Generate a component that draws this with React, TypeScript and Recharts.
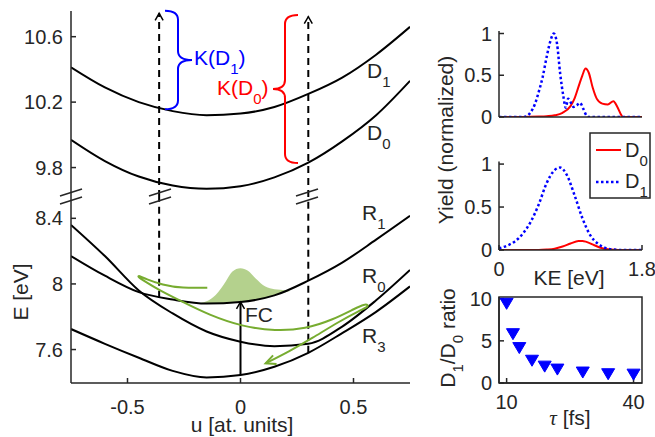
import React from 'react';
import { ComposedChart, Line, Area, XAxis, YAxis, Scatter, ReferenceArea } from 'recharts';

const FONT = '"Liberation Sans", Arial, Helvetica, sans-serif';
const AX = '#262626';
const GREEN = '#77AC30';
const BLUE = '#0000ff';
const RED = '#ff0000';

// ---------- main panel: potential curves (u in at. units, E in eV) ----------
const uGrid = [-0.75, -0.6, -0.45, -0.3, -0.15, 0, 0.15, 0.3, 0.45, 0.6, 0.75];
const eD1 = [10.413, 10.29, 10.2, 10.145, 10.12, 10.13, 10.17, 10.25, 10.35, 10.49, 10.66];
const eD0 = [9.97, 9.84, 9.745, 9.69, 9.67, 9.686, 9.74, 9.83, 9.96, 10.12, 10.33];
const eR1 = [8.17, 8.05, 7.95, 7.905, 7.88, 7.89, 7.93, 8.02, 8.13, 8.27, 8.415];
const eR0 = [8.36, 8.17, 7.96, 7.82, 7.71, 7.648, 7.62, 7.635, 7.74, 7.9, 8.085];
const eR3 = [7.725, 7.635, 7.55, 7.47, 7.43, 7.445, 7.495, 7.58, 7.7, 7.83, 7.985];

const upperTicks = [9.8, 10.2, 10.6];
const lowerTicks = [7.6, 8, 8.4];
const uTicks = [-0.5, 0, 0.5];

// wave packet on R1
const packetU = [-0.2, -0.15, -0.11, -0.066, -0.037, 0, 0.033, 0.066, 0.11, 0.15, 0.2, 0.22];
const packetLo = [7.882, 7.88, 7.881, 7.884, 7.886, 7.89, 7.896, 7.905, 7.915, 7.93, 7.95, 7.957];
const packetHi = [7.882, 7.895, 7.933, 8.014, 8.075, 8.096, 8.08, 8.035, 7.984, 7.968, 7.962, 7.957];

// green trajectory
const trajU = [-0.147, -0.258, -0.346, -0.42, -0.45, -0.455, -0.43, -0.361, -0.258, -0.14, 0.007, 0.155, 0.288, 0.406, 0.509, 0.548, 0.566, 0.56, 0.531, 0.435, 0.317, 0.214, 0.111];
const trajE = [7.977, 7.974, 7.994, 8.03, 8.052, 8.045, 8.022, 7.963, 7.892, 7.811, 7.74, 7.713, 7.726, 7.78, 7.852, 7.877, 7.872, 7.858, 7.84, 7.77, 7.669, 7.587, 7.516];

// vertical probes
const probeLeftU = [-0.36, -0.36];
const probeLeftLowE = [7.915, 8.53];
const probeLeftHighE = [9.62, 10.743];
const probeRightU = [0.3, 0.3];
const probeRightLowE = [7.58, 8.53];
const probeRightHighE = [9.62, 10.722];
const fcU = [0, 0];
const fcE = [7.445, 7.89];

// ---------- right panels: spectra ----------
const aD0KE = [0, 0.3, 0.5, 0.6, 0.7, 0.8, 0.9, 0.95, 1.0, 1.05, 1.09, 1.13, 1.18, 1.23, 1.3, 1.37, 1.44, 1.49, 1.53, 1.56, 1.8];
const aD0Y = [0, 0, 0.005, 0.01, 0.02, 0.05, 0.13, 0.22, 0.36, 0.5, 0.58, 0.53, 0.35, 0.22, 0.16, 0.15, 0.19, 0.12, 0.04, 0, 0];
const aD1KE = [0, 0.3, 0.35, 0.4, 0.45, 0.5, 0.55, 0.6, 0.65, 0.69, 0.73, 0.77, 0.81, 0.84, 0.87, 0.9, 0.94, 0.98, 1.02, 1.06, 1.1, 1.13, 1.8];
const aD1Y = [0, 0, 0.01, 0.06, 0.15, 0.3, 0.48, 0.72, 0.92, 1.0, 0.88, 0.52, 0.25, 0.11, 0.22, 0.18, 0.12, 0.14, 0.17, 0.1, 0.02, 0, 0];

const bD1KE = [0, 0.1, 0.2, 0.3, 0.4, 0.5, 0.6, 0.7, 0.77, 0.85, 0.95, 1.05, 1.15, 1.25, 1.35, 1.45, 1.55, 1.8];
const bD1Y = [0.02, 0.05, 0.1, 0.19, 0.33, 0.53, 0.78, 0.93, 0.96, 0.88, 0.64, 0.37, 0.17, 0.07, 0.02, 0.005, 0, 0];
const bD0KE = [0, 0.5, 0.6, 0.7, 0.8, 0.9, 1.0, 1.05, 1.1, 1.2, 1.3, 1.4, 1.5, 1.8];
const bD0Y = [0, 0, 0.005, 0.015, 0.04, 0.075, 0.105, 0.105, 0.095, 0.055, 0.02, 0.005, 0, 0];

const yieldTicks = [0, 0.5, 1];
const keTicks = [0, 1.8];

// ---------- ratio panel ----------
const tauFs = [10, 11.5, 13, 16, 19, 22, 28, 34, 40];
const ratio = [9.45, 5.85, 4.2, 2.7, 2.0, 1.65, 1.3, 1.1, 1.05];
const ratioTicks = [0, 5, 10];
const tauTicks = [10, 40];

const mk = (xs: number[], ys: number[], kx: string, ky: string) =>
  xs.map((x, i) => ({ [kx]: x, [ky]: ys[i] }));

const fmt = (v: number) => String(Math.round(v * 10) / 10);
const blank = () => '';
const tickStyle = { fill: AX, fontSize: 20, fontFamily: FONT };
const axisLine = { stroke: AX, strokeWidth: 1.5 };

const arrowUp = (color: string) => (props: any) => {
  const { cx, cy, index } = props;
  if (index !== 1) return <g key={`n${index}`} />;
  return (
    <path key={`a${index}`} d={`M${cx - 4},${cy + 7} L${cx},${cy} L${cx + 4},${cy + 7}`}
      stroke={color} strokeWidth={1.5} fill="none" strokeDasharray="0" />
  );
};

const greenHead = (props: any) => {
  const { cx, cy, index } = props;
  if (index !== trajU.length - 1) return <g key={`n${index}`} />;
  return (
    <path key="gh" d={`M${cx + 11},${cy + 0.6} L${cx},${cy} L${cx + 7.5},${cy - 8}`}
      stroke={GREEN} strokeWidth={2} fill="none" />
  );
};

const TriDown = (p: any) => (
  <path d={`M${p.cx - 6.5},${p.cy - 5} L${p.cx + 6.5},${p.cy - 5} L${p.cx},${p.cy + 6} Z`} fill={BLUE} stroke={BLUE} />
);

const Sub = ({ x, y, base, sub, color = AX, size = 21, anchor = 'start' }: any) => (
  <text x={x} y={y} fill={color} fontSize={size} fontFamily={FONT} textAnchor={anchor}>
    {base}
    <tspan fontSize={15} dy={9}>{sub}</tspan>
  </text>
);

const brace = (x0: number, spine: number, tip: number, yTop: number, yMid: number, yBot: number) => {
  const r = 9;
  return `M${x0},${yTop} Q${spine},${yTop} ${spine},${yTop + r} L${spine},${yMid - r} Q${spine},${yMid} ${tip},${yMid} Q${spine},${yMid} ${spine},${yMid + r} L${spine},${yBot - r} Q${spine},${yBot} ${x0},${yBot}`;
};

export default function App() {
  const d1 = mk(uGrid, eD1, 'u', 'E');
  const d0 = mk(uGrid, eD0, 'u', 'E');
  const r1 = mk(uGrid, eR1, 'u', 'E');
  const r0 = mk(uGrid, eR0, 'u', 'E');
  const r3 = mk(uGrid, eR3, 'u', 'E');
  const packet = packetU.map((u, i) => ({ u, lo: packetLo[i], hi: packetHi[i] }));
  const traj = mk(trajU, trajE, 'u', 'E');
  const pLL = mk(probeLeftU, probeLeftLowE, 'u', 'E');
  const pLH = mk(probeLeftU, probeLeftHighE, 'u', 'E');
  const pRL = mk(probeRightU, probeRightLowE, 'u', 'E');
  const pRH = mk(probeRightU, probeRightHighE, 'u', 'E');
  const fc = mk(fcU, fcE, 'u', 'E');

  const aD0 = mk(aD0KE, aD0Y, 'ke', 'y');
  const aD1 = mk(aD1KE, aD1Y, 'ke', 'y');
  const bD0 = mk(bD0KE, bD0Y, 'ke', 'y');
  const bD1 = mk(bD1KE, bD1Y, 'ke', 'y');
  const rat = mk(tauFs, ratio, 'tau', 'ratio');

  const blackLine = { type: 'monotone' as const, stroke: '#000', strokeWidth: 2, dot: false, isAnimationActive: false };

  return (
    <div style={{ position: 'absolute', left: 0, top: 0, width: 655, height: 437, background: '#fff', overflow: 'hidden' }}>
      {/* upper part of main panel */}
      <div style={{ position: 'absolute', left: 0, top: 0 }}>
        <ComposedChart width={420} height={197} margin={{ top: 11, right: 10, bottom: 0, left: 0 }}>
          <XAxis type="number" dataKey="u" domain={[-0.75, 0.75]} hide allowDataOverflow />
          <YAxis type="number" domain={[9.62, 10.757]} ticks={upperTicks} width={71} allowDataOverflow
            tickSize={-5} tickMargin={13} tick={tickStyle} tickFormatter={fmt} axisLine={axisLine} tickLine={axisLine} interval={0} />
          <Line data={d1} dataKey="E" {...blackLine} />
          <Line data={d0} dataKey="E" {...blackLine} />
          <Line data={pLH} dataKey="E" type="linear" stroke="#000" strokeWidth={2} strokeDasharray="7 5" dot={arrowUp('#000')} isAnimationActive={false} />
          <Line data={pRH} dataKey="E" type="linear" stroke="#000" strokeWidth={2} strokeDasharray="7 5" dot={arrowUp('#000')} isAnimationActive={false} />
        </ComposedChart>
      </div>

      {/* lower part of main panel */}
      <div style={{ position: 'absolute', left: 0, top: 197 }}>
        <ComposedChart width={420} height={240} margin={{ top: 0, right: 10, bottom: 0, left: 0 }}>
          <XAxis type="number" dataKey="u" domain={[-0.75, 0.75]} ticks={uTicks} height={54} allowDataOverflow
            tickSize={-5} tickMargin={22} tick={tickStyle} tickFormatter={fmt} axisLine={axisLine} tickLine={axisLine} interval={0} />
          <YAxis type="number" domain={[7.396, 8.53]} ticks={lowerTicks} width={71} allowDataOverflow
            tickSize={-5} tickMargin={13} tick={tickStyle} tickFormatter={fmt} axisLine={axisLine} tickLine={axisLine} interval={0} />
          <Area data={packet} dataKey={(d: any) => [d.lo, d.hi]} type="monotone" fill={GREEN} fillOpacity={0.55} stroke="none" isAnimationActive={false} />
          <Line data={r1} dataKey="E" {...blackLine} />
          <Line data={r0} dataKey="E" {...blackLine} />
          <Line data={r3} dataKey="E" {...blackLine} />
          <Line data={pLL} dataKey="E" type="linear" stroke="#000" strokeWidth={2} strokeDasharray="7 5" dot={false} isAnimationActive={false} />
          <Line data={pRL} dataKey="E" type="linear" stroke="#000" strokeWidth={2} strokeDasharray="7 5" dot={false} isAnimationActive={false} />
          <Line data={fc} dataKey="E" type="linear" stroke="#000" strokeWidth={2} dot={arrowUp('#000')} isAnimationActive={false} />
          <Line data={traj} dataKey="E" type="basis" stroke={GREEN} strokeWidth={2} dot={greenHead} isAnimationActive={false} />
        </ComposedChart>
      </div>

      {/* panel A */}
      <div style={{ position: 'absolute', left: 420, top: 0 }}>
        <ComposedChart width={235} height={132} margin={{ top: 31, right: 13, bottom: 0, left: 0 }}>
          <XAxis type="number" dataKey="ke" domain={[0, 1.8]} height={15} tick={false} tickLine={false} axisLine={axisLine} allowDataOverflow />
          <YAxis type="number" domain={[0, 1.03]} ticks={yieldTicks} width={79} allowDataOverflow
            tickSize={-5} tickMargin={12} tick={tickStyle} tickFormatter={fmt} axisLine={axisLine} tickLine={axisLine} interval={0} />
          <Line data={aD0} dataKey="y" type="monotone" stroke={RED} strokeWidth={2} dot={false} isAnimationActive={false} />
          <Line data={aD1} dataKey="y" type="monotone" stroke={BLUE} strokeWidth={2.5} strokeDasharray="2.5 2.5" dot={false} isAnimationActive={false} />
        </ComposedChart>
      </div>

      {/* panel B */}
      <div style={{ position: 'absolute', left: 420, top: 140 }}>
        <ComposedChart width={235} height={150} margin={{ top: 21.5, right: 13, bottom: 0, left: 0 }}>
          <XAxis type="number" dataKey="ke" domain={[0, 1.8]} ticks={keTicks} height={40} allowDataOverflow
            tickSize={-5} tickMargin={17} tick={tickStyle} tickFormatter={fmt} axisLine={axisLine} tickLine={axisLine} interval={0} />
          <YAxis type="number" domain={[0, 1.03]} ticks={yieldTicks} width={79} allowDataOverflow
            tickSize={-5} tickMargin={12} tick={tickStyle} tickFormatter={fmt} axisLine={axisLine} tickLine={axisLine} interval={0} />
          <Line data={bD0} dataKey="y" type="monotone" stroke={RED} strokeWidth={2} dot={false} isAnimationActive={false} />
          <Line data={bD1} dataKey="y" type="monotone" stroke={BLUE} strokeWidth={2.5} strokeDasharray="2.5 2.5" dot={false} isAnimationActive={false} />
        </ComposedChart>
      </div>

      {/* panel C */}
      <div style={{ position: 'absolute', left: 420, top: 280 }}>
        <ComposedChart width={235} height={143} margin={{ top: 17, right: 13, bottom: 0, left: 0 }}>
          <XAxis type="number" dataKey="tau" domain={[8.2, 42]} ticks={tauTicks} height={40} allowDataOverflow
            tickSize={-5} tickMargin={17} tick={tickStyle} tickFormatter={fmt} axisLine={axisLine} tickLine={axisLine} interval={0} />
          <XAxis xAxisId="top" orientation="top" type="number" domain={[8.2, 42]} ticks={tauTicks} height={0} allowDataOverflow
            tickSize={-5} tickFormatter={blank} axisLine={axisLine} tickLine={axisLine} interval={0} />
          <YAxis type="number" dataKey="ratio" domain={[0, 10.2]} ticks={ratioTicks} width={79} allowDataOverflow
            tickSize={-5} tickMargin={12} tick={tickStyle} tickFormatter={fmt} axisLine={axisLine} tickLine={axisLine} interval={0} />
          <YAxis yAxisId="right" orientation="right" type="number" domain={[0, 10.2]} ticks={ratioTicks} width={0} allowDataOverflow
            tickSize={-5} tickFormatter={blank} axisLine={axisLine} tickLine={axisLine} interval={0} />
          <ReferenceArea x1={8.2} x2={42} y1={0} y2={10.2} fill="none" stroke={AX} strokeWidth={1.5} />
          <Scatter data={rat} dataKey="ratio" shape={TriDown} fill={BLUE} isAnimationActive={false} />
        </ComposedChart>
      </div>

      {/* annotations */}
      <svg width={655} height={437} style={{ position: 'absolute', left: 0, top: 0, pointerEvents: 'none' }}>
        {/* axis break marks */}
        {[71, 160, 307].map((x) => (
          <g key={x}>
            <line x1={x - 11} y1={196} x2={x + 11} y2={189} stroke={AX} strokeWidth={1.5} />
            <line x1={x - 11} y1={204} x2={x + 11} y2={197} stroke={AX} strokeWidth={1.5} />
          </g>
        ))}
        {/* braces */}
        <path d={brace(165, 178, 192, 10.7, 60, 109.3)} stroke={BLUE} strokeWidth={2} fill="none" />
        <path d={brace(298, 285, 273, 15, 89, 163)} stroke={RED} strokeWidth={2} fill="none" />
        <text x={194} y={65} fill={BLUE} fontSize={21} fontFamily={FONT}>
          K(D<tspan fontSize={15} dy={9}>1</tspan><tspan dy={-9}>)</tspan>
        </text>
        <text x={217} y={95} fill={RED} fontSize={21} fontFamily={FONT}>
          K(D<tspan fontSize={15} dy={9}>0</tspan><tspan dy={-9}>)</tspan>
        </text>
        {/* curve labels */}
        <Sub x={367} y={78} base="D" sub="1" />
        <Sub x={367} y={140} base="D" sub="0" />
        <Sub x={362} y={220} base="R" sub="1" />
        <Sub x={362} y={283} base="R" sub="0" />
        <Sub x={362} y={343} base="R" sub="3" />
        <text x={245} y={322} fill={AX} fontSize={21} fontFamily={FONT}>FC</text>
        {/* axis labels */}
        <text transform="translate(28,292) rotate(-90)" textAnchor="middle" fill={AX} fontSize={21} fontFamily={FONT}>E [eV]</text>
        <text x={242} y={432} textAnchor="middle" fill={AX} fontSize={21} fontFamily={FONT}>u [at. units]</text>
        <text transform="translate(453,140) rotate(-90)" textAnchor="middle" fill={AX} fontSize={21} fontFamily={FONT}>Yield (normalized)</text>
        <text x={569} y={285} textAnchor="middle" fill={AX} fontSize={21} fontFamily={FONT}>KE [eV]</text>
        <text transform="translate(455,338) rotate(-90)" textAnchor="middle" fill={AX} fontSize={21} fontFamily={FONT}>
          D<tspan fontSize={15} dy={8}>1</tspan><tspan dy={-8}>/D</tspan><tspan fontSize={15} dy={8}>0</tspan><tspan dy={-8}> ratio</tspan>
        </text>
        <text x={570} y={425} textAnchor="middle" fill={AX} fontSize={21} fontFamily={FONT}>
          <tspan fontFamily='"Liberation Serif", serif' fontStyle="italic">τ</tspan> [fs]
        </text>
        {/* legend */}
        <rect x={590} y={133} width={60} height={65} fill="#fff" stroke={AX} strokeWidth={1.5} />
        <line x1={596} y1={150} x2={621} y2={150} stroke={RED} strokeWidth={2} />
        <Sub x={625} y={157} base="D" sub="0" size={20} />
        <line x1={596} y1={182} x2={621} y2={182} stroke={BLUE} strokeWidth={2.5} strokeDasharray="2.5 2.5" />
        <Sub x={625} y={188} base="D" sub="1" size={20} />
      </svg>
    </div>
  );
}
